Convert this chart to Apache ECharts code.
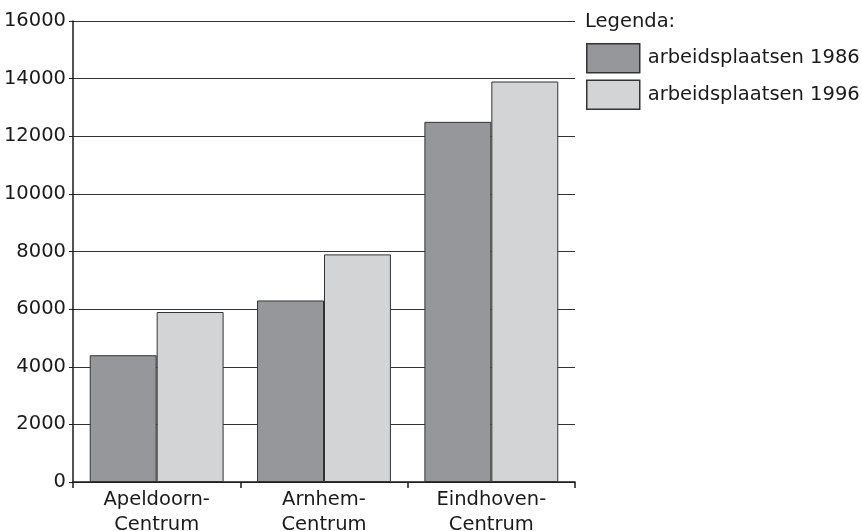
<!DOCTYPE html>
<html><head><meta charset="utf-8">
<script src="https://cdn.jsdelivr.net/npm/echarts@6/dist/echarts.min.js"></script>
<style>html,body{margin:0;padding:0;background:#fff}#c{width:862px;height:531px}</style>
</head><body><div id="c"></div>
<script>
const categories = ['Apeldoorn-\nCentrum', 'Arnhem-\nCentrum', 'Eindhoven-\nCentrum'];
const seriesNames = ['arbeidsplaatsen 1986', 'arbeidsplaatsen 1996'];
const values1986 = [4400, 6300, 12500];
const values1996 = [5900, 7900, 13900];
const legendTitle = 'Legenda:';

const font = '"DejaVu Sans", sans-serif';
const fs = 19.5;
const chart = echarts.init(document.getElementById('c'));
chart.setOption({
  animation: false,
  backgroundColor: '#fff',
  textStyle: { fontFamily: font },
  grid: { left: 73, right: 287, top: 21, bottom: 49, containLabel: false, outerBoundsMode: 'none' },
  graphic: [{ type: 'text', left: 585, top: 12, style: { text: legendTitle, font: fs + 'px ' + font, fill: '#1a1a1a' } }],
  legend: {
    orient: 'vertical', left: 581, top: 38, itemWidth: 53, itemHeight: 29, itemGap: 6,
    icon: 'rect',
    itemStyle: { borderWidth: 1.5 },
    textStyle: { fontSize: fs, color: '#1a1a1a', fontFamily: font, padding: [0, 0, 0, 3] },
    data: seriesNames
  },
  xAxis: {
    type: 'category', data: categories,
    axisLine: { lineStyle: { color: '#1a1a1a', width: 1.5 } },
    axisTick: { show: true, length: 6, lineStyle: { color: '#1a1a1a', width: 1.5 } },
    axisLabel: { fontSize: fs, color: '#1a1a1a', lineHeight: 25, margin: 5, fontFamily: font }
  },
  yAxis: {
    type: 'value', min: 0, max: 16000, interval: 2000,
    axisLine: { show: true, lineStyle: { color: '#1a1a1a', width: 1.5 } },
    axisTick: { show: true, length: 4, lineStyle: { color: '#1a1a1a' } },
    splitLine: { lineStyle: { color: '#333', width: 1 } },
    axisLabel: { fontSize: fs, color: '#1a1a1a', margin: 7, fontFamily: font, formatter: v => String(v) }
  },
  series: [
    { name: seriesNames[0], type: 'bar', data: values1986, barGap: '0%', barCategoryGap: '20%',
      itemStyle: { color: '#96979b', borderColor: '#333', borderWidth: 1 } },
    { name: seriesNames[1], type: 'bar', data: values1996, barGap: '0%', barCategoryGap: '20%',
      itemStyle: { color: '#d3d4d6', borderColor: '#333', borderWidth: 1 } }
  ]
});
</script></body></html>
